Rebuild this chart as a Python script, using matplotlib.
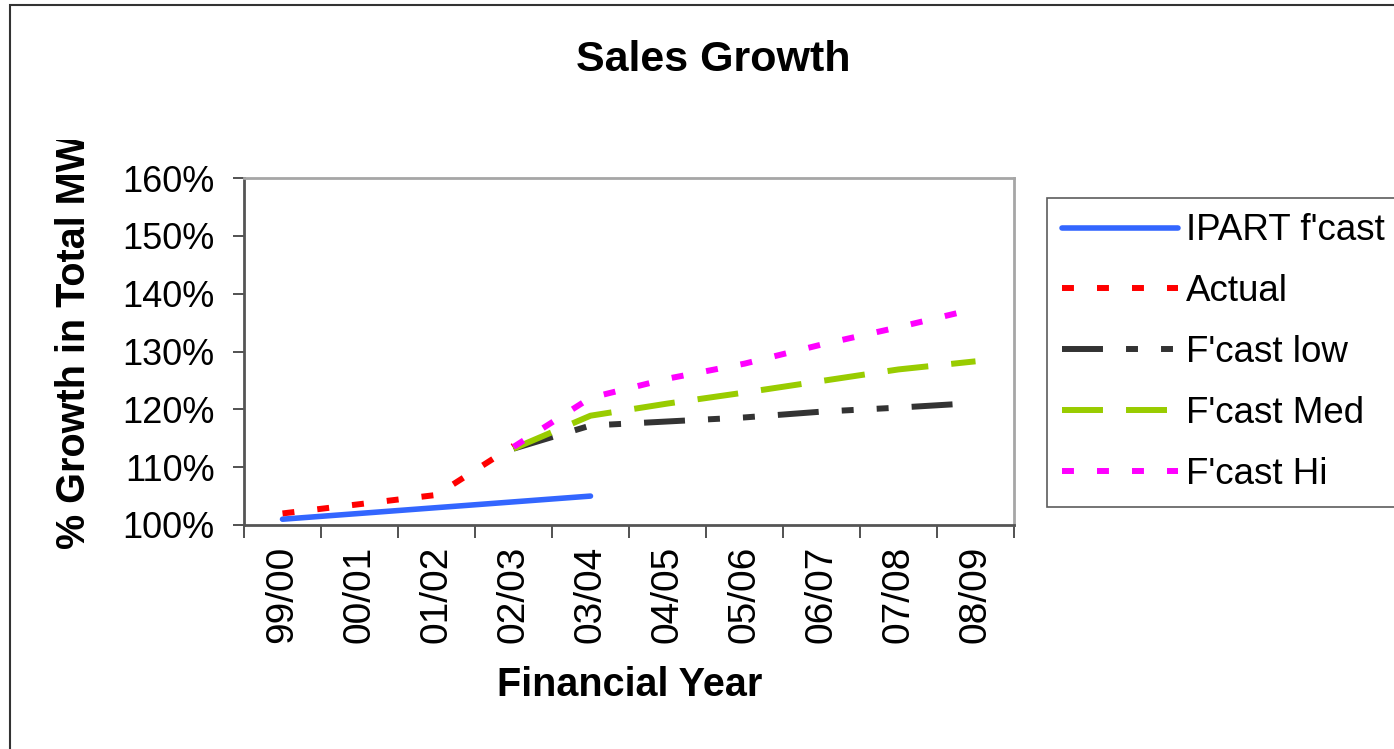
import matplotlib.pyplot as plt
import numpy as np
from matplotlib.patches import Rectangle
from matplotlib.transforms import Bbox
from matplotlib.ticker import FuncFormatter

plt.rcParams['font.family'] = ['Liberation Sans', 'DejaVu Sans']
plt.rcParams['lines.scale_dashes'] = False

years = ['99/00', '00/01', '01/02', '02/03', '03/04',
         '04/05', '05/06', '06/07', '07/08', '08/09']
ipart = [101.0, 102.0, 103.0, 104.0, 105.0]
actual = [102.0, 103.6, 105.2, 113.7]
fc_low = [113.2, 117.2, 117.9, 118.6, 119.6, 120.3, 121.1]
fc_med = [113.2, 118.9, 121.0, 122.9, 124.9, 126.9, 128.3]
fc_hi = [113.5, 122.0, 125.3, 127.9, 131.2, 134.2, 137.4]

W, H = 1394, 749
fig = plt.figure(figsize=(W / 100, H / 100), dpi=100)
ax = fig.add_axes([244 / W, 1 - 525 / H, 770 / W, 347 / H])

x = np.arange(len(years))
sq_dot = (0, (8.6, 16.6))
long_dash = (0, (29.5, 16.6))
long_dash_dot_dot = (0, (29.5, 16.6, 8.6, 16.6, 8.6, 16.6))

ax.plot(x[:len(ipart)], ipart, color='#3366FF', lw=4,
        solid_capstyle='round', label="IPART f'cast")
ax.plot(x[:len(actual)], actual, color='#FF0000', lw=4.3,
        linestyle=sq_dot, label='Actual')
ax.plot(x[3:], fc_low, color='#333333', lw=4.3, linestyle=long_dash_dot_dot,
        label="F'cast low")
ax.plot(x[3:], fc_med, color='#99CC00', lw=4.3, linestyle=long_dash,
        label="F'cast Med")
ax.plot(x[3:], fc_hi, color='#FF00FF', lw=4.3, linestyle=sq_dot,
        label="F'cast Hi")

ax.set_xlim(-0.5, len(years) - 0.5)
ax.set_ylim(100, 160)
ax.set_yticks(np.arange(100, 161, 10))
ax.yaxis.set_major_formatter(FuncFormatter(lambda v, p: '%d%%' % v))
ax.set_xticks(x)
ax.set_xticklabels(years, rotation=90)
ax.set_xticks(np.arange(-0.5, len(years), 1), minor=True)
ax.tick_params(axis='x', which='major', length=0, pad=15, labelsize=28)
ax.tick_params(axis='x', which='minor', length=9, width=1.2, color='#333333')
ax.tick_params(axis='y', length=8, width=1.2, color='#333333', pad=13,
               labelsize=26)

for s in ['top', 'right']:
    ax.spines[s].set_color('#a6a6a6')
    ax.spines[s].set_linewidth(2)
for s in ['left', 'bottom']:
    ax.spines[s].set_color('#555555')
    ax.spines[s].set_linewidth(2)

fig.text(713 / W, 1 - 60 / H, 'Sales Growth', ha='center', va='center',
         fontsize=31, fontweight='bold')
fig.text(630 / W, 1 - 685 / H, 'Financial Year', ha='center', va='center',
         fontsize=28.5, fontweight='bold')
ylab = fig.text(74 / W, 1 - 549 / H, '% Growth in Total MW', rotation=90,
                ha='center', va='bottom', fontsize=28.5, fontweight='bold')
ylab.set_clip_on(True)
ylab.set_clip_box(Bbox([[0, 0], [W, H - 140]]))

leg = ax.legend(loc='upper left', bbox_to_anchor=(1047 / W, 1 - 198 / H),
                bbox_transform=fig.transFigure, borderaxespad=0,
                fontsize=26.5, frameon=True, fancybox=False,
                handlelength=3.15, handletextpad=0.2, labelspacing=0.7,
                borderpad=0.42)
leg.get_frame().set_edgecolor('#333333')
leg.get_frame().set_linewidth(1.2)

fig.patches.append(Rectangle((10 / W, -0.1), 1.2, 1 - 5 / H + 0.1,
                             transform=fig.transFigure, fill=False,
                             edgecolor='#333333', linewidth=1.5))

fig.savefig('out.png', dpi=100)
